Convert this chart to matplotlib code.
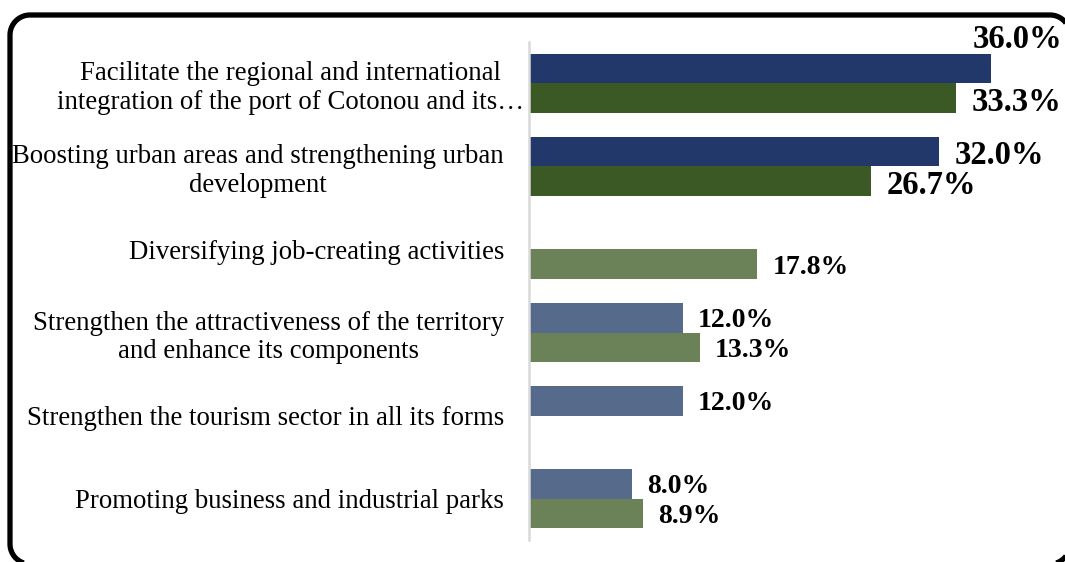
import numpy as np
import matplotlib.pyplot as plt
from matplotlib.patches import Polygon
from matplotlib.transforms import ScaledTranslation

# ── DATA ──────────────────────────────────────────────────────
categories = [
    "Facilitate the regional and international\nintegration of the port of Cotonou and its…",
    "Boosting urban areas and strengthening urban\ndevelopment",
    "Diversifying job-creating activities",
    "Strengthen the attractiveness of the territory\nand enhance its components",
    "Strengthen the tourism sector in all its forms",
    "Promoting business and industrial parks",
]
series_a = [36.0, 32.0, np.nan, 12.0, 12.0, 8.0]
series_b = [33.3, 26.7, 17.8, 13.3, np.nan, 8.9]

# top two rows are drawn in the darker shades
blue_dark, blue_light = "#22386a", "#566a8b"
green_dark, green_light = "#3a5925", "#6b8258"

plt.rcParams["font.family"] = ["Liberation Serif", "DejaVu Serif"]

fig = plt.figure(figsize=(10.65, 5.62), dpi=100)
ax = fig.add_axes([0.4967, 0.0391, 0.4817, 0.8862])

y = np.arange(len(categories))
h = 0.36
cols_a = [blue_dark if i < 2 else blue_light for i in y]
cols_b = [green_dark if i < 2 else green_light for i in y]

bars_a = ax.barh(y - h / 2, np.nan_to_num(series_a), height=h, color=cols_a)
bars_b = ax.barh(y + h / 2, np.nan_to_num(series_b), height=h, color=cols_b)

ax.set_xlim(0, 40)
ax.set_ylim(len(categories) - 0.5, -0.5)

# value labels
for vals, bars in [(series_a, bars_a), (series_b, bars_b)]:
    for i, (v, b) in enumerate(zip(vals, bars)):
        if np.isnan(v):
            continue
        size = 23.5 if i < 2 else 20
        dy = 3 if i < 2 else 2
        yc = b.get_y() + b.get_height() / 2
        if v >= 35:
            # no room to the right: sit on top of the bar end
            ax.annotate(f"{v:.1f}%", xy=(v, b.get_y()), xytext=(-13, -1),
                        textcoords="offset points", ha="left", va="bottom",
                        fontsize=size, fontweight="bold", clip_on=False)
        else:
            ax.annotate(f"{v:.1f}%", xy=(v, yc), xytext=(11, -dy),
                        textcoords="offset points", ha="left", va="center",
                        fontsize=size, fontweight="bold")

ax.set_yticks(y)
labels = ax.set_yticklabels(categories, fontsize=19.3, ha="right",
                            multialignment="center", linespacing=1.16)
ax.tick_params(axis="y", length=0, pad=18)
ax.tick_params(axis="x", bottom=False, labelbottom=False)
labels[0].set_transform(labels[0].get_transform()
                        + ScaledTranslation(0.2, 0, fig.dpi_scale_trans))

for s in ["top", "right", "bottom"]:
    ax.spines[s].set_visible(False)
ax.spines["left"].set_color("#d9d9d9")
ax.spines["left"].set_linewidth(1.8)


def rounded_outline(x0, y0, w, h, r, n=24):
    """Rounded-rectangle outline as a plain polyline (inches)."""
    x1, y1 = x0 + w, y0 + h
    corners = [(x1 - r, y1 - r, 0), (x0 + r, y1 - r, 90),
               (x0 + r, y0 + r, 180), (x1 - r, y0 + r, 270)]
    pts = []
    for cx, cy, start in corners:
        t = np.radians(np.linspace(start, start + 90, n))
        pts.append(np.column_stack([cx + r * np.cos(t), cy + r * np.sin(t)]))
    return np.vstack(pts)


# outer frame, running past the right and bottom edges
frame = Polygon(rounded_outline(0.10, -0.02, 10.60, 5.49, 0.2), closed=True,
                fill=False, edgecolor="black", linewidth=3.8,
                transform=fig.dpi_scale_trans)
fig.patches.append(frame)

fig.savefig("out.png", dpi=100)
